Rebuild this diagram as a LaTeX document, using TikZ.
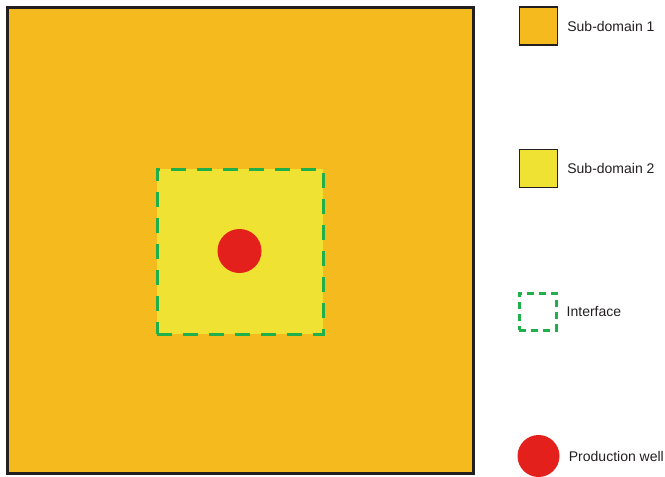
\documentclass[tikz,border=0pt]{standalone}
\usepackage{fontspec}
\setmainfont{Liberation Sans}
\usepackage{xcolor}
\usepackage{tikz}
\usetikzlibrary{positioning}

\definecolor{subone}{HTML}{F4BA1E}
\definecolor{subtwo}{HTML}{EFE232}
\definecolor{ifgreen}{HTML}{1FAF4B}
\definecolor{wellred}{HTML}{E3201B}
\definecolor{edgedark}{HTML}{231F20}

\begin{document}
\begin{tikzpicture}[x=1pt,y=-1pt,
    keybox/.style={draw=edgedark,line width=1.3pt,minimum size=38pt,inner sep=0pt},
    keytext/.style={right=9pt of #1,inner sep=0pt,font=\fontsize{14}{16}\selectfont,text=edgedark},
    wellmark/.style={circle,fill=wellred,inner sep=0pt}]
  \useasboundingbox (0,0) rectangle (665,477);
  % domain with sub-domains
  \node[draw=edgedark,fill=subone,line width=3pt,minimum size=466pt,inner sep=0pt] (domain) at (240,240) {};
  \node[fill=subtwo,draw=ifgreen,line width=3pt,dash pattern=on 15pt off 11pt,
        minimum width=166pt,minimum height=165pt,inner sep=0pt] (inner) at (240,251.5) {};
  \node[wellmark,minimum size=44pt] (well) at (239.5,251) {};
  % legend
  \node[keybox,fill=subone] (key1) at (538.5,26) {};
  \node[keytext=key1] (lab1) {Sub-domain 1};
  \node[keybox,fill=subtwo] (key2) at (538.5,168.5) {};
  \node[keytext=key2] (lab2) {Sub-domain 2};
  \node[draw=ifgreen,line width=3pt,dash pattern=on 7pt off 5pt,minimum size=37pt,inner sep=0pt] (key3) at (537.5,311.5) {};
  \node[keytext=key3] (lab3) {Interface};
  \node[wellmark,minimum size=42pt] (key4) at (538.5,456) {};
  \node[keytext=key4] (lab4) {Production well};
\end{tikzpicture}
\end{document}
